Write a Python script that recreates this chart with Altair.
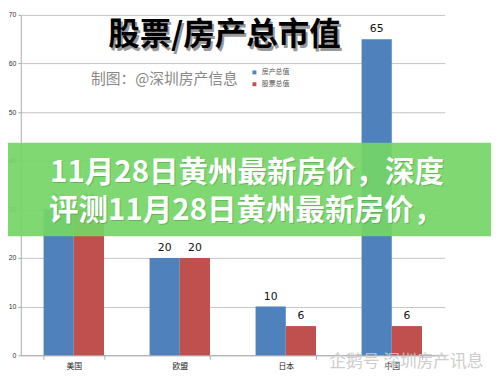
import altair as alt
import pandas as pd

categories = ["美国", "欧盟", "日本", "中国"]
series_names = ["房产总值", "股票总值"]
house_values = [30, 20, 10, 65]
stock_values = [30, 20, 6, 6]
series_colors = ["#4f81bd", "#c0504d"]
y_ticks = [0, 10, 20, 30, 40, 50, 60, 70]

title_text = "股票/房产总市值"
subtitle_text = "制图：@深圳房产信息"
banner_line1 = "11月28日黄州最新房价，深度"
banner_line2 = "评测11月28日黄州最新房价，"
watermark_text = "企鹅号 深圳房产讯息"

rows = []
for c, h, s in zip(categories, house_values, stock_values):
    rows.append({"国家": c, "系列": series_names[0], "值": h})
    rows.append({"国家": c, "系列": series_names[1], "值": s})
df = pd.DataFrame(rows)

FONT = "Noto Sans CJK SC"

x_enc = alt.X("国家:N", sort=categories, title=None,
              scale=alt.Scale(paddingInner=0.43, paddingOuter=0.215),
              axis=alt.Axis(labelAngle=0, labelFontSize=8, labelColor="#222",
                            labelFont=FONT, tickBand="extent", tickSize=4,
                            tickColor="#aaa", domainColor="#aaa", labelPadding=3,
                            grid=False))
y_enc = alt.Y("值:Q", title=None,
              scale=alt.Scale(domain=[0, 70], nice=False),
              axis=alt.Axis(values=y_ticks, labelFontSize=7, labelColor="#333",
                            tickSize=3, tickColor="#aaa", domainColor="#aaa",
                            gridColor="#c4c4c4", labelPadding=2))
color_enc = alt.Color("系列:N", sort=series_names,
                      scale=alt.Scale(domain=series_names, range=series_colors),
                      legend=alt.Legend(title=None, orient="none", legendX=234, legendY=55,
                                        symbolType="square", symbolSize=16,
                                        labelFontSize=7, labelColor="#555", labelFont=FONT,
                                        rowPadding=4, symbolStrokeWidth=0))
xoff = alt.XOffset("系列:N", sort=series_names)

base = alt.Chart(df)
bars = base.mark_bar().encode(x=x_enc, y=y_enc, color=color_enc, xOffset=xoff)
labels = base.mark_text(baseline="bottom", dy=-5, fontSize=11, color="#111",
                        font="DejaVu Sans").encode(
    x=alt.X("国家:N", sort=categories), y="值:Q", xOffset=xoff, text="值:Q")

one = alt.Data(values=[{"k": 1}])


def txt(s, x, y, **kw):
    return alt.Chart(one).mark_text(text=s, **kw).encode(x=alt.value(x), y=alt.value(y))


title_shadow = txt(title_text, 209, 24, fontSize=32, fontWeight="bold", font=FONT,
                   color="#444", opacity=0.55, baseline="middle")
title = txt(title_text, 207, 21, fontSize=32, fontWeight="bold", font=FONT,
            color="#000", baseline="middle")
subtitle = txt(subtitle_text, 146, 65, fontSize=15, font=FONT, color="#888",
               baseline="middle")

banner = alt.Chart(one).mark_rect(color="#75d567", opacity=0.93).encode(
    x=alt.value(-13), x2=alt.value(478), y=alt.value(130), y2=alt.value(225))
b1s = txt(banner_line1, 231, 162, fontSize=30, fontWeight="bold", font=FONT,
          color="#3a7a30", opacity=0.35, baseline="middle")
b1 = txt(banner_line1, 230, 161, fontSize=30, fontWeight="bold", font=FONT,
         color="white", baseline="middle")
b2s = txt(banner_line2, 230, 201, fontSize=30, fontWeight="bold", font=FONT,
          color="#3a7a30", opacity=0.35, baseline="middle")
b2 = txt(banner_line2, 229, 200, fontSize=30, fontWeight="bold", font=FONT,
         color="white", baseline="middle")
watermark = txt(watermark_text, 392, 353, fontSize=17, font=FONT, color="#c8c8c8",
                opacity=0.9, baseline="middle")

chart = alt.layer(bars, labels, title_shadow, title, subtitle, banner, b1s, b1, b2s, b2,
                  watermark).properties(
    width=431, height=346,
    autosize=alt.AutoSizeParams(type="none"),
    padding={"left": 13, "top": 4, "right": 47, "bottom": 12},
    background="white",
).configure_view(stroke=None)

chart.save("out.html", embed_options={"renderer": "svg", "actions": False})
